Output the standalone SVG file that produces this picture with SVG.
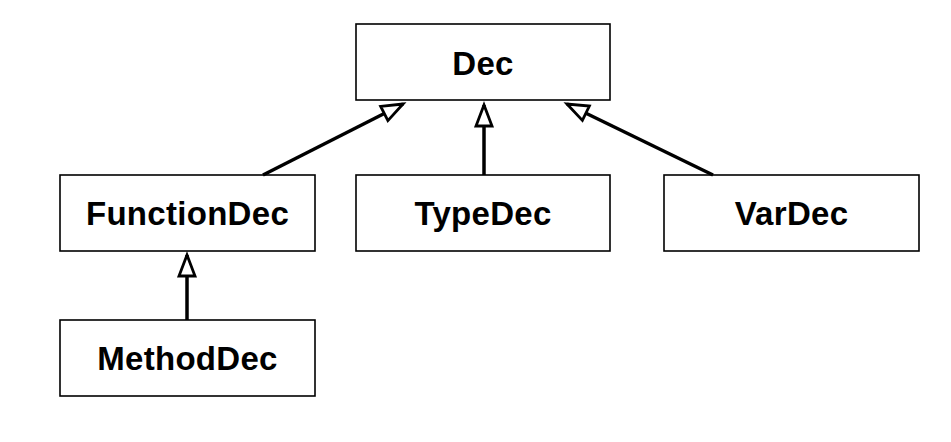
<svg xmlns="http://www.w3.org/2000/svg" width="951" height="442" viewBox="0 0 951 442">
<style>
.box{fill:#fff;stroke:#000;stroke-width:1.6}
.lbl{font-family:"Liberation Sans",Arial,sans-serif;font-weight:bold;font-size:33px;letter-spacing:0.3px;text-anchor:middle;fill:#000}
.edge{stroke:#000;stroke-width:3.5;fill:none}
</style>
<defs>
<marker id="tri" markerUnits="userSpaceOnUse" viewBox="-28 -12 32 24" markerWidth="32" markerHeight="24" refX="0" refY="0" orient="auto" overflow="visible">
<path d="M0,0 L-21,-8 L-21,8 Z" fill="#fff" stroke="#000" stroke-width="2.8" stroke-linejoin="miter"/>
</marker>
</defs>
<rect width="951" height="442" fill="#fff"/>
<g id="Dec"><rect class="box" x="356" y="24" width="254" height="76"/><text class="lbl" x="483" y="75">Dec</text></g>
<g id="FunctionDec"><rect class="box" x="60" y="175" width="255" height="76"/><text class="lbl" x="187.5" y="225">FunctionDec</text></g>
<g id="TypeDec"><rect class="box" x="356" y="175" width="254" height="76"/><text class="lbl" x="483" y="225">TypeDec</text></g>
<g id="VarDec"><rect class="box" x="664" y="175" width="255" height="76"/><text class="lbl" x="791.5" y="225">VarDec</text></g>
<g id="MethodDec"><rect class="box" x="60" y="320" width="255" height="76"/><text class="lbl" x="187.5" y="370">MethodDec</text></g>
<g id="connectors">
<line class="edge" x1="263" y1="175" x2="403" y2="104" marker-end="url(#tri)"/>
<line class="edge" x1="484" y1="175" x2="484" y2="105" marker-end="url(#tri)"/>
<line class="edge" x1="713" y1="175" x2="567" y2="104" marker-end="url(#tri)"/>
<line class="edge" x1="187" y1="320" x2="187" y2="255" marker-end="url(#tri)"/>
</g>
</svg>
